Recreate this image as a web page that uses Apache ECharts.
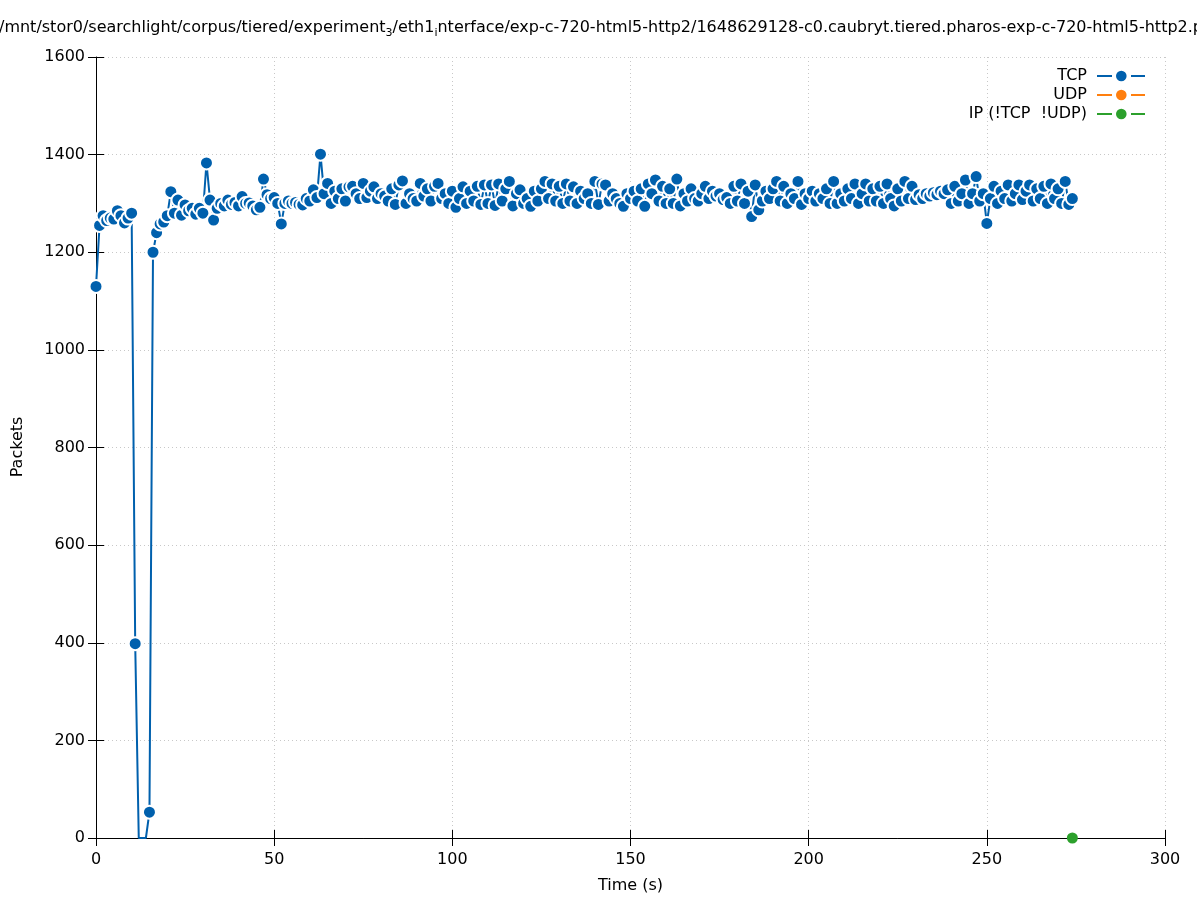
<!DOCTYPE html>
<html>
<head>
<meta charset="utf-8">
<script src="https://cdn.jsdelivr.net/npm/echarts@6/dist/echarts.min.js"></script>
<style>
html,body{margin:0;padding:0;background:#fff;}
#chart{width:1197px;height:900px;}
</style>
</head>
<body>
<div id="chart"></div>
<script>
// TCP packets per second, t = 0 .. 274 s
const tcpValues = [
1130,1255,1275,1265,1270,1268,1285,1275,1260,1270,
1280,398,0,0,0,53,1200,1240,1258,1262,
1275,1324,1280,1307,1276,1297,1285,1290,1278,1290,
1280,1383,1307,1266,1290,1300,1295,1307,1298,1302,
1295,1314,1300,1301,1295,1287,1292,1350,1318,1310,
1312,1300,1258,1300,1305,1300,1302,1298,1297,1310,
1305,1328,1312,1401,1320,1341,1300,1325,1310,1330,
1305,1334,1335,1320,1310,1341,1312,1325,1334,1310,
1320,1315,1305,1330,1298,1338,1346,1300,1320,1310,
1305,1341,1315,1330,1305,1335,1341,1310,1320,1300,
1325,1292,1310,1334,1300,1325,1305,1335,1298,1338,
1300,1338,1296,1340,1305,1330,1345,1295,1320,1328,
1300,1310,1294,1325,1305,1330,1345,1310,1340,1305,
1335,1300,1340,1305,1334,1300,1325,1310,1320,1300,
1345,1298,1340,1338,1305,1320,1310,1300,1294,1320,
1310,1325,1305,1330,1294,1340,1320,1348,1305,1335,
1300,1330,1300,1350,1295,1320,1305,1330,1310,1305,
1320,1335,1310,1325,1315,1320,1308,1312,1300,1335,
1305,1340,1300,1325,1273,1338,1287,1305,1325,1310,
1330,1345,1305,1335,1300,1320,1310,1345,1298,1320,
1310,1325,1305,1320,1310,1330,1300,1345,1300,1320,
1305,1330,1310,1340,1300,1320,1340,1305,1330,1305,
1335,1300,1340,1310,1295,1330,1305,1345,1310,1335,
1308,1318,1310,1320,1315,1322,1318,1325,1320,1328,
1300,1335,1305,1320,1348,1300,1320,1355,1305,1320,
1259,1310,1335,1300,1325,1310,1338,1305,1320,1338,
1308,1325,1338,1305,1330,1310,1335,1300,1340,1310,
1330,1300,1345,1298,1310
];
const udpTimes = [];
const udpValues = [];
const ipTimes = [274];
const ipValues = [0];
const xTicks = [0, 50, 100, 150, 200, 250, 300];
const yTicks = [0, 200, 400, 600, 800, 1000, 1200, 1400, 1600];
const seriesNames = ['TCP', 'UDP', 'IP (!TCP  !UDP)'];
const seriesColors = ['#0060ad', '#ff7f0e', '#2ca02c'];

const FONT = 'DejaVu Sans';
const tcpData = tcpValues.map((v, i) => (v === 0 ? { value: [i, v], symbolSize: 0 } : [i, v]));
const udpData = udpTimes.map((t, i) => [t, udpValues[i]]);
const ipData = ipTimes.map((t, i) => [t, ipValues[i]]);

const legendIcon = 'path://M0,5h15v2h-15z M34,5h14v2h-14z M19,6a5.3,5.3 0 1,0 10.6,0a5.3,5.3 0 1,0 -10.6,0z';

const chart = echarts.init(document.getElementById('chart'), null, { renderer: 'canvas' });

const splitLine = { show: true, lineStyle: { color: '#c8c8c8', width: 1, type: [1, 3] } };
const tickStyle = { show: true, inside: true, length: 8, lineStyle: { color: '#000', width: 1 } };
const plainNum = v => String(v);

chart.setOption({
  animation: false,
  backgroundColor: '#fff',
  grid: { left: 96, right: 32, top: 57, bottom: 62, containLabel: false },
  legend: {
    orient: 'vertical',
    right: 47,
    top: 63,
    align: 'right',
    itemWidth: 48,
    itemHeight: 12,
    itemGap: 3,
    icon: legendIcon,
    itemStyle: { borderWidth: 0 },
    textStyle: { fontFamily: FONT, fontSize: 16, color: '#000', lineHeight: 16, padding: [0, 5, 0, 0] },
    data: seriesNames
  },
  xAxis: [
    {
      type: 'value', position: 'bottom', min: xTicks[0], max: xTicks[xTicks.length - 1], interval: 50,
      axisLine: { show: true, onZero: false, lineStyle: { color: '#000', width: 1 } },
      axisTick: tickStyle,
      axisLabel: { fontFamily: FONT, fontSize: 16, color: '#000', margin: 14, formatter: plainNum },
      splitLine: splitLine
    },
    {
      type: 'value', position: 'top', min: xTicks[0], max: xTicks[xTicks.length - 1], interval: 50,
      axisLine: { show: false },
      axisTick: tickStyle,
      axisLabel: { show: false },
      splitLine: { show: false }
    }
  ],
  yAxis: [
    {
      type: 'value', position: 'left', min: yTicks[0], max: yTicks[yTicks.length - 1], interval: 200,
      axisLine: { show: true, onZero: false, lineStyle: { color: '#000', width: 1 } },
      axisTick: tickStyle,
      axisLabel: { fontFamily: FONT, fontSize: 16, color: '#000', margin: 11, formatter: plainNum },
      splitLine: splitLine
    },
    {
      type: 'value', position: 'right', min: yTicks[0], max: yTicks[yTicks.length - 1], interval: 200,
      axisLine: { show: false },
      axisTick: tickStyle,
      axisLabel: { show: false },
      splitLine: { show: false }
    }
  ],
  series: [
    {
      name: seriesNames[0], type: 'line', xAxisIndex: 0, yAxisIndex: 0,
      data: tcpData, symbol: 'circle', symbolSize: 13, showAllSymbol: true,
      color: seriesColors[0],
      lineStyle: { color: seriesColors[0], width: 2 },
      itemStyle: { color: seriesColors[0], borderColor: '#fff', borderWidth: 2 },
      emphasis: { disabled: true }
    },
    {
      name: seriesNames[1], type: 'line', xAxisIndex: 0, yAxisIndex: 0,
      data: udpData, symbol: 'circle', symbolSize: 13,
      color: seriesColors[1],
      lineStyle: { color: seriesColors[1], width: 2 },
      itemStyle: { color: seriesColors[1], borderColor: '#fff', borderWidth: 2 }
    },
    {
      name: seriesNames[2], type: 'line', xAxisIndex: 0, yAxisIndex: 0,
      data: ipData, symbol: 'circle', symbolSize: 11, clip: false,
      color: seriesColors[2],
      lineStyle: { color: seriesColors[2], width: 2 },
      itemStyle: { color: seriesColors[2], borderWidth: 0 }
    }
  ],
  graphic: [
    {
      type: 'text', left: -1, top: 17, silent: true,
      style: {
        text: '/mnt/stor0/searchlight/corpus/tiered/experiment{sub|3}/eth1{sub|i}nterface/exp-c-720-html5-http2/1648629128-c0.caubryt.tiered.pharos-exp-c-720-html5-http2.pcap',
        font: '16px "DejaVu Sans"', fill: '#000', lineHeight: 22,
        rich: { sub: { fontFamily: FONT, fontSize: 11, lineHeight: 22, verticalAlign: 'bottom', fill: '#000' } }
      }
    },
    {
      type: 'text', x: 18, y: 447, rotation: Math.PI / 2, silent: true,
      style: { text: 'Packets', font: '16px "DejaVu Sans"', fill: '#000', align: 'center', verticalAlign: 'middle' }
    },
    {
      type: 'text', x: 630.5, y: 886, silent: true,
      style: { text: 'Time (s)', font: '16px "DejaVu Sans"', fill: '#000', align: 'center', verticalAlign: 'middle' }
    }
  ]
});
</script>
</body>
</html>
